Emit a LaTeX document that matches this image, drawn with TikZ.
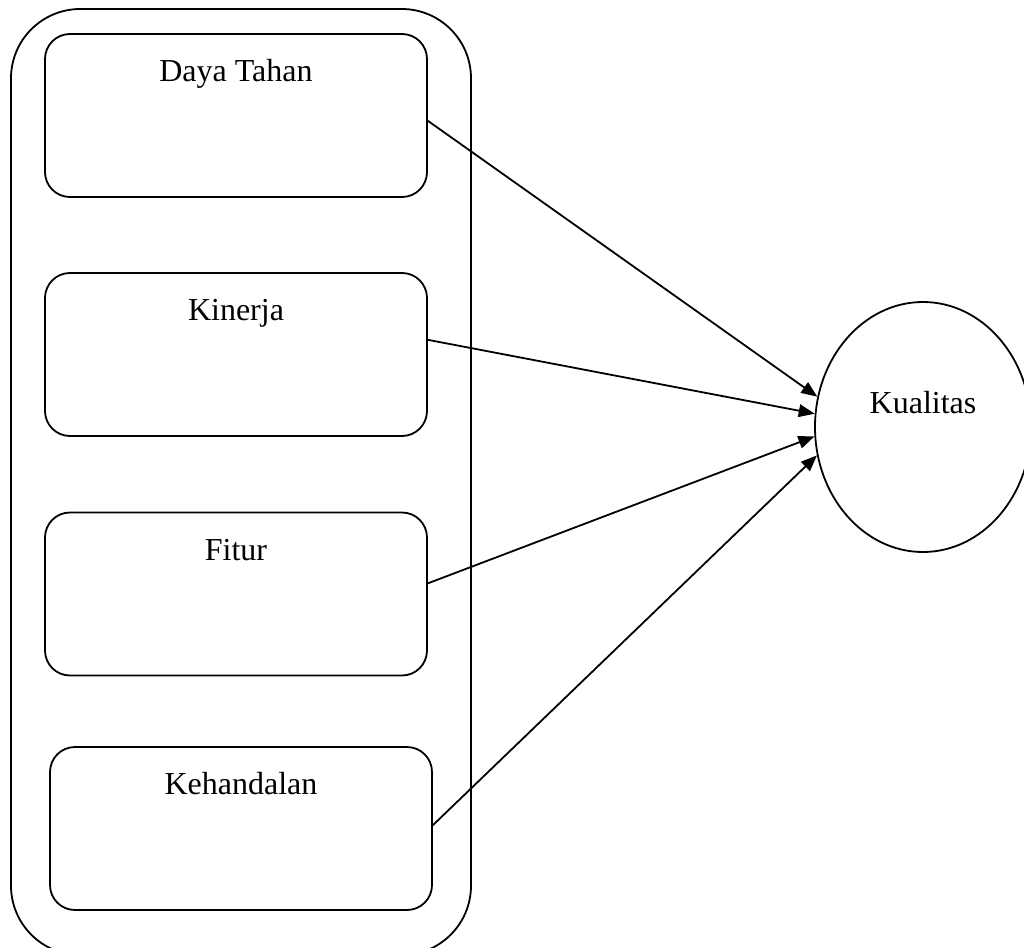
\documentclass[tikz,border=0pt]{standalone}
\usepackage{fontspec}
\setmainfont{Liberation Serif}
\usetikzlibrary{arrows.meta,positioning,shapes.geometric}
\tikzset{
  kotak/.style={draw, rounded corners=18.75pt, minimum width=286.5pt, minimum height=122.25pt, inner sep=0pt},
  judul/.style={anchor=base, font=\fontsize{24}{28}\selectfont},
  panah/.style={-{Triangle[length=12pt,width=9.5pt]}},
}
\begin{document}
\begin{tikzpicture}[x=0.75pt,y=0.75pt,yscale=-1,xscale=1,line width=1.35pt]
\useasboundingbox (0,0) rectangle (1024,948);
%Outer frame
\draw [rounded corners=52pt] (11,9) rectangle (471,955) ;
%Boxes
\node [kotak] (dayatahan) at (236,115.5) {};
\node [kotak] (kinerja) at (236,354.5) {};
\node [kotak] (fitur) at (236,594) {};
\node [kotak] (kehandalan) at (241,828.5) {};
% Text Node
\node [judul] (tdayatahan) at (236,82) {Daya Tahan};
\node [judul] (tkinerja) at (236,321) {Kinerja};
\node [judul] (tfitur) at (236,560) {Fitur};
\node [judul] (tkehandalan) at (241,794) {Kehandalan};
%Shape: Ellipse
\node [draw, ellipse, minimum width=162pt, minimum height=187.5pt, inner sep=0pt] (kualitas) at (923,427) {};
\node [judul] (tkualitas) at (923,413) {Kualitas};
%Arrows
\draw [panah] ([yshift=4pt]dayatahan.east) -- (kualitas.164) ;
\draw [panah] ([yshift=-11pt]kinerja.east) -- (kualitas.173.5) ;
\draw [panah] ([yshift=-8pt]fitur.east) -- (kualitas.185) ;
\draw [panah] ([yshift=-2.5pt]kehandalan.east) -- (kualitas.195) ;
\end{tikzpicture}
\end{document}
